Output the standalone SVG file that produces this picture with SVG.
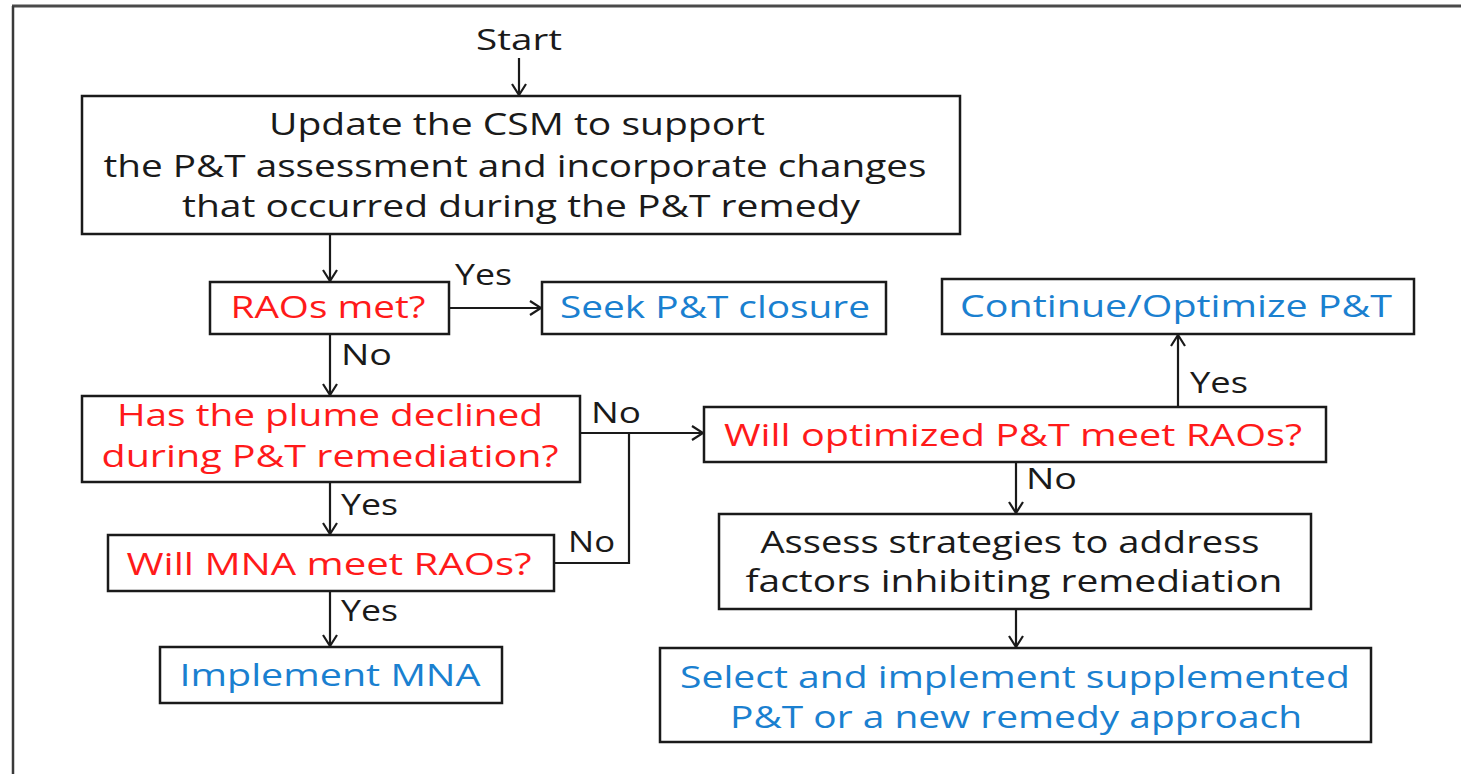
<svg xmlns="http://www.w3.org/2000/svg" width="1461" height="774" viewBox="0 0 1461 774">
<defs>
<style>
.box{fill:#ffffff;stroke:#1a1a1a;stroke-width:2.5}
.con{fill:none;stroke:#1a1a1a;stroke-width:2.2}
text{font-family:"Open Sans","Liberation Sans",sans-serif;font-size:31px;text-anchor:middle}
.k{fill:#1a1a1a}
.r{fill:#ff1a1a}
.b{fill:#1a80d0}
.lbl{fill:#1a1a1a;text-anchor:start;font-size:29px}
</style>
<marker id="ah" markerUnits="userSpaceOnUse" markerWidth="14" markerHeight="16" refX="12" refY="8" orient="auto">
<path d="M1,1 L12,8 L1,15" fill="none" stroke="#1a1a1a" stroke-width="2.2"/>
</marker>
</defs>
<rect width="1461" height="774" fill="#ffffff"/>
<g id="frame">
<line x1="12" y1="6" x2="1461" y2="6" stroke="#4a4a4a" stroke-width="3"/>
<line x1="13" y1="6" x2="13" y2="774" stroke="#3a3a3a" stroke-width="2.5"/>
</g>
<g id="connectors">
<line class="con" x1="519" y1="58" x2="519" y2="95" marker-end="url(#ah)"/>
<line class="con" x1="330" y1="234" x2="330" y2="281" marker-end="url(#ah)"/>
<line class="con" x1="330" y1="334" x2="330" y2="395" marker-end="url(#ah)"/>
<line class="con" x1="330" y1="482" x2="330" y2="534" marker-end="url(#ah)"/>
<line class="con" x1="330" y1="591" x2="330" y2="646" marker-end="url(#ah)"/>
<line class="con" x1="449" y1="308" x2="541" y2="308" marker-end="url(#ah)"/>
<line class="con" x1="580" y1="433" x2="703" y2="433" marker-end="url(#ah)"/>
<polyline class="con" points="554,563 629,563 629,433"/>
<line class="con" x1="1178" y1="407" x2="1178" y2="335" marker-end="url(#ah)"/>
<line class="con" x1="1016" y1="462" x2="1016" y2="513" marker-end="url(#ah)"/>
<line class="con" x1="1016" y1="609" x2="1016" y2="647" marker-end="url(#ah)"/>
<text class="lbl" x="519" y="50" text-anchor="middle" style="text-anchor:middle" textLength="86" lengthAdjust="spacingAndGlyphs">Start</text>
<text class="lbl" x="455" y="285" textLength="57" lengthAdjust="spacingAndGlyphs">Yes</text>
<text class="lbl" x="341" y="365" textLength="51" lengthAdjust="spacingAndGlyphs">No</text>
<text class="lbl" x="591" y="423" textLength="50" lengthAdjust="spacingAndGlyphs">No</text>
<text class="lbl" x="568" y="552" textLength="47" lengthAdjust="spacingAndGlyphs">No</text>
<text class="lbl" x="341" y="515" textLength="57" lengthAdjust="spacingAndGlyphs">Yes</text>
<text class="lbl" x="341" y="621" textLength="57" lengthAdjust="spacingAndGlyphs">Yes</text>
<text class="lbl" x="1190" y="393" textLength="58" lengthAdjust="spacingAndGlyphs">Yes</text>
<text class="lbl" x="1026" y="489" textLength="51" lengthAdjust="spacingAndGlyphs">No</text>
</g>
<g id="n-update">
<rect class="box" x="82" y="96" width="878" height="138"/>
<text class="k" x="517" y="135" textLength="496" lengthAdjust="spacingAndGlyphs">Update the CSM to support</text>
<text class="k" x="515" y="177" textLength="823" lengthAdjust="spacingAndGlyphs">the P&amp;T assessment and incorporate changes</text>
<text class="k" x="521" y="217" textLength="678" lengthAdjust="spacingAndGlyphs">that occurred during the P&amp;T remedy</text>
</g>
<g id="n-raos">
<rect class="box" x="210" y="282" width="239" height="52"/>
<text class="r" x="328" y="318" textLength="195" lengthAdjust="spacingAndGlyphs">RAOs met?</text>
</g>
<g id="n-seek">
<rect class="box" x="542" y="282" width="344" height="52"/>
<text class="b" x="715" y="318" textLength="310" lengthAdjust="spacingAndGlyphs">Seek P&amp;T closure</text>
</g>
<g id="n-continue">
<rect class="box" x="942" y="279" width="472" height="55"/>
<text class="b" x="1176" y="317" textLength="432" lengthAdjust="spacingAndGlyphs">Continue/Optimize P&amp;T</text>
</g>
<g id="n-plume">
<rect class="box" x="82" y="396" width="498" height="86"/>
<text class="r" x="330" y="426" textLength="426" lengthAdjust="spacingAndGlyphs">Has the plume declined</text>
<text class="r" x="330" y="467" textLength="457" lengthAdjust="spacingAndGlyphs">during P&amp;T remediation?</text>
</g>
<g id="n-optimized">
<rect class="box" x="704" y="407" width="622" height="55"/>
<text class="r" x="1013" y="446" textLength="578" lengthAdjust="spacingAndGlyphs">Will optimized P&amp;T meet RAOs?</text>
</g>
<g id="n-mna">
<rect class="box" x="108" y="535" width="446" height="56"/>
<text class="r" x="329" y="575" textLength="405" lengthAdjust="spacingAndGlyphs">Will MNA meet RAOs?</text>
</g>
<g id="n-implement">
<rect class="box" x="160" y="647" width="342" height="56"/>
<text class="b" x="330" y="686" textLength="301" lengthAdjust="spacingAndGlyphs">Implement MNA</text>
</g>
<g id="n-assess">
<rect class="box" x="719" y="514" width="592" height="95"/>
<text class="k" x="1010" y="553" textLength="499" lengthAdjust="spacingAndGlyphs">Assess strategies to address</text>
<text class="k" x="1014" y="592" textLength="537" lengthAdjust="spacingAndGlyphs">factors inhibiting remediation</text>
</g>
<g id="n-select">
<rect class="box" x="660" y="648" width="711" height="94"/>
<text class="b" x="1015" y="688" textLength="670" lengthAdjust="spacingAndGlyphs">Select and implement supplemented</text>
<text class="b" x="1016" y="728" textLength="572" lengthAdjust="spacingAndGlyphs">P&amp;T or a new remedy approach</text>
</g>
</svg>
